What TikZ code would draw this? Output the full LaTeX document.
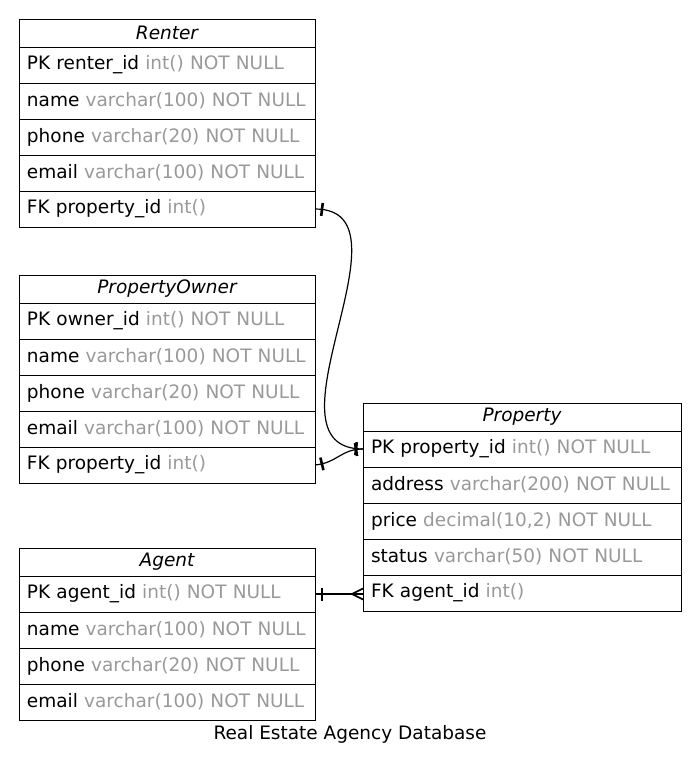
\documentclass[tikz,border=0pt]{standalone}
\usepackage{fontspec}
\setmainfont{DejaVu Sans}
\usepackage{xcolor}
\usetikzlibrary{positioning, decorations.markings}
\definecolor{tipo}{RGB}{153,153,153}
\newcommand\dtype[1]{\textcolor{tipo}{#1}}
\newcommand\barra{\draw[line width=2.6pt] (0,-6.5pt) -- (0,6.5pt);}

\begin{document}
\begin{tikzpicture}[x=1pt, y=-1pt,
		    every node/.style={font=\fontsize{18.5}{22}\selectfont},
		    titulo/.style={draw, outer sep=0pt, inner sep=0pt, minimum width=#1, minimum height=28pt,
		        font=\fontsize{18.5}{22}\selectfont\itshape},
		    campo/.style={draw, outer sep=0pt, inner xsep=8pt, inner ysep=0pt, text width=#1,
		        minimum height=36pt, align=left}
		]
		\tikzset{
		    ligacao/.style={line width=1.2pt},
		    teetee/.style={postaction={decorate, decoration={markings,
		        mark=at position 7pt with {\barra}, mark=at position -7pt with {\barra}}}},
		    teecrow/.style={postaction={decorate, decoration={markings,
		        mark=at position 7pt with {\barra},
		        mark=at position -11pt with {\draw[line width=1.6pt] (11pt,-5.5pt) -- (0,0) -- (11pt,5.5pt);}}}}
		}
		\useasboundingbox (0,0) rectangle (700,770);

		\node[titulo=296pt, anchor=north west] (renter) at (19,19) {Renter};
		\node[campo=280pt, below=0pt of renter] (renter-pk) {PK renter\_id \dtype{int() NOT NULL}};
		\node[campo=280pt, below=0pt of renter-pk] (renter-name) {name \dtype{varchar(100) NOT NULL}};
		\node[campo=280pt, below=0pt of renter-name] (renter-phone) {phone \dtype{varchar(20) NOT NULL}};
		\node[campo=280pt, below=0pt of renter-phone] (renter-email) {email \dtype{varchar(100) NOT NULL}};
		\node[campo=280pt, below=0pt of renter-email] (renter-fk) {FK property\_id \dtype{int()}};

		\node[titulo=296pt, anchor=north west] (owner) at (19,275) {PropertyOwner};
		\node[campo=280pt, below=0pt of owner] (owner-pk) {PK owner\_id \dtype{int() NOT NULL}};
		\node[campo=280pt, below=0pt of owner-pk] (owner-name) {name \dtype{varchar(100) NOT NULL}};
		\node[campo=280pt, below=0pt of owner-name] (owner-phone) {phone \dtype{varchar(20) NOT NULL}};
		\node[campo=280pt, below=0pt of owner-phone] (owner-email) {email \dtype{varchar(100) NOT NULL}};
		\node[campo=280pt, below=0pt of owner-email] (owner-fk) {FK property\_id \dtype{int()}};

		\node[titulo=296pt, anchor=north west] (agent) at (19,548) {Agent};
		\node[campo=280pt, below=0pt of agent] (agent-pk) {PK agent\_id \dtype{int() NOT NULL}};
		\node[campo=280pt, below=0pt of agent-pk] (agent-name) {name \dtype{varchar(100) NOT NULL}};
		\node[campo=280pt, below=0pt of agent-name] (agent-phone) {phone \dtype{varchar(20) NOT NULL}};
		\node[campo=280pt, below=0pt of agent-phone] (agent-email) {email \dtype{varchar(100) NOT NULL}};

		\node[titulo=318pt, anchor=north west] (property) at (363,403) {Property};
		\node[campo=302pt, below=0pt of property] (property-pk) {PK property\_id \dtype{int() NOT NULL}};
		\node[campo=302pt, below=0pt of property-pk] (property-address) {address \dtype{varchar(200) NOT NULL}};
		\node[campo=302pt, below=0pt of property-address] (property-price) {price \dtype{decimal(10,2) NOT NULL}};
		\node[campo=302pt, below=0pt of property-price] (property-status) {status \dtype{varchar(50) NOT NULL}};
		\node[campo=302pt, below=0pt of property-status] (property-fk) {FK agent\_id \dtype{int()}};

		\draw[ligacao, teetee] (renter-fk.east) .. controls +(105,0) and +(-108,0) .. (property-pk.west);
		\draw[ligacao, teetee] (owner-fk.east) .. controls +(22,-2) and +(-22,0) .. (property-pk.west);
		\draw[ligacao, teecrow] (agent-pk.east) -- (agent-pk.east -| property-fk.west);

		\node (legenda) at (350,734) {Real Estate Agency Database};
		\end{tikzpicture}
\end{document}
